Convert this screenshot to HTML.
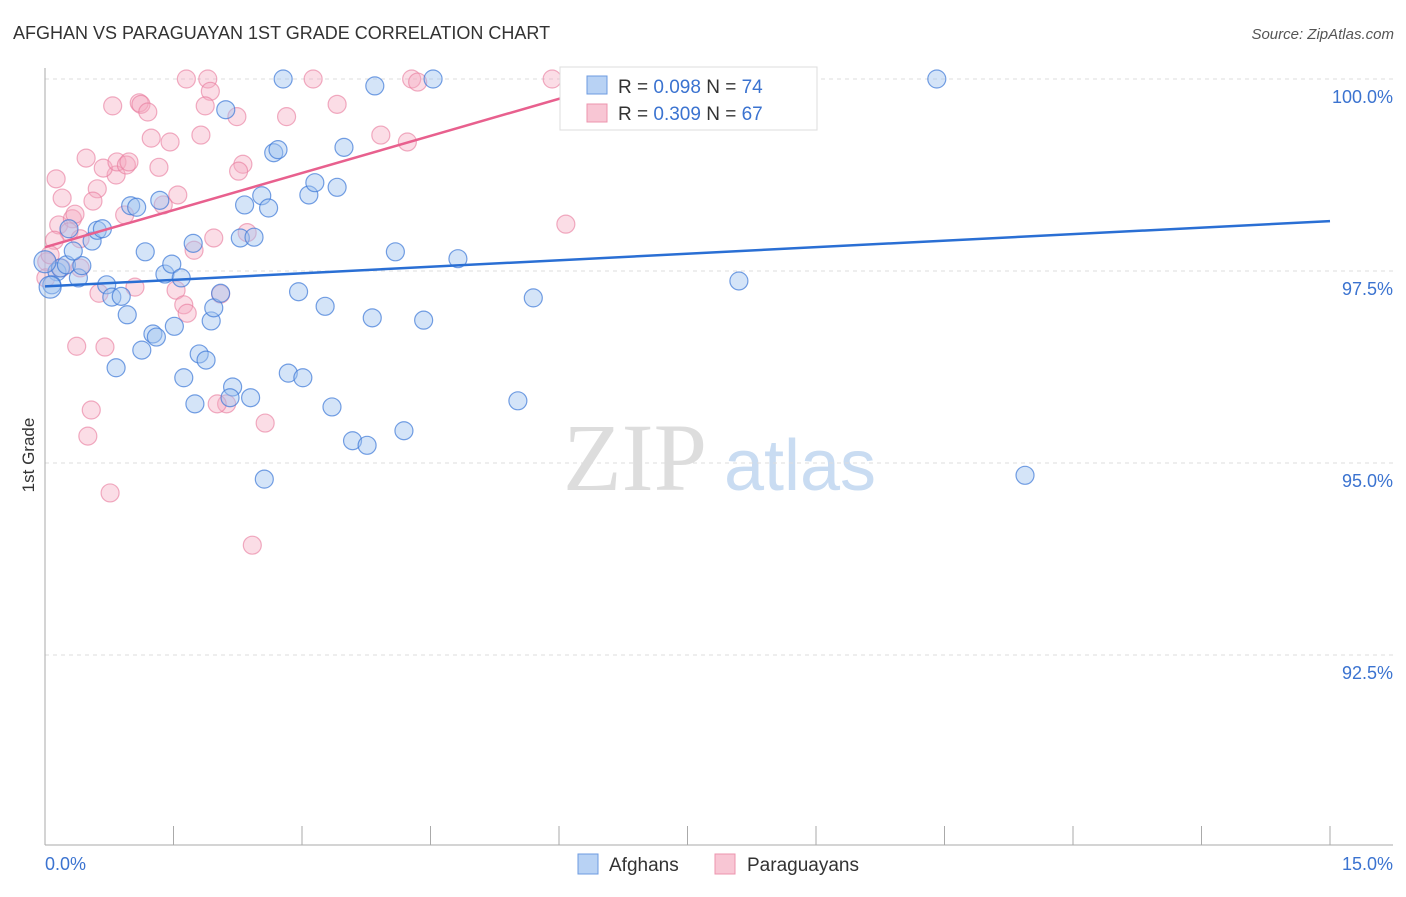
<!DOCTYPE html>
<html><head><meta charset="utf-8"><style>
body{margin:0;background:#fff;font-family:"Liberation Sans",sans-serif;}
</style></head><body>
<svg id="chart" width="1406" height="892" xmlns="http://www.w3.org/2000/svg" font-family="Liberation Sans, sans-serif">
<text x="13" y="39" font-size="18" fill="#333">AFGHAN VS PARAGUAYAN 1ST GRADE CORRELATION CHART</text>
<text x="1394" y="39" font-size="15" fill="#555" text-anchor="end" font-style="italic">Source: ZipAtlas.com</text>
<text transform="translate(34,455) rotate(-90)" font-size="17" fill="#333" text-anchor="middle">1st Grade</text>
<g><text x="635" y="490" font-size="96" fill="#ddd" text-anchor="middle" font-family="Liberation Serif, serif">ZIP</text><text x="800" y="490" font-size="72" fill="#c9dcf2" text-anchor="middle">atlas</text></g>
<g id="grid"></g><g id="axes"></g><g id="pts"></g><g id="lines"></g>
<g>
<rect x="560" y="67" width="257" height="63" fill="#fff" stroke="#ddd"/>
<rect x="587" y="76" width="20" height="18" fill="#b8d2f4" stroke="#6d9be0"/>
<text x="618" y="93" font-size="19" fill="#333">R = <tspan fill="#3b73d0">0.098</tspan>   N = <tspan fill="#3b73d0">74</tspan></text>
<rect x="587" y="104" width="20" height="18" fill="#f8c6d4" stroke="#ec94ae"/>
<text x="618" y="120" font-size="19" fill="#333">R = <tspan fill="#3b73d0">0.309</tspan>   N = <tspan fill="#3b73d0">67</tspan></text>
</g>
<g>
<rect x="578" y="854" width="20" height="20" fill="#b8d2f4" stroke="#6d9be0"/>
<text x="609" y="871" font-size="19" fill="#333">Afghans</text>
<rect x="715" y="854" width="20" height="20" fill="#f8c6d4" stroke="#ec94ae"/>
<text x="747" y="871" font-size="19" fill="#333">Paraguayans</text>
</g>
</svg>
<script>
const blueX=[0.14,0.08,0.18,0.25,0.39,0.43,0.33,0.55,0.61,0.67,0.28,0.72,0.78,0.89,0.96,1.13,0.83,1.26,1.30,1.51,1.40,1.48,1.59,1.73,1.17,1.00,1.07,1.34,1.62,1.75,1.80,1.88,1.94,1.97,2.05,2.19,2.16,2.40,2.28,2.44,2.33,2.53,2.61,2.11,2.67,2.72,2.78,3.08,3.15,3.41,3.49,3.85,4.53,2.96,3.27,2.84,3.01,3.35,3.59,3.76,3.82,4.19,4.42,4.09,4.82,5.52,5.70,2.56,8.10,10.41,11.44,8.78,0.0,0.06];
const blueY=[97.49,97.32,97.54,97.58,97.41,97.57,97.76,97.89,98.03,98.05,98.05,97.32,97.16,97.17,96.93,96.47,96.24,96.68,96.64,96.78,97.46,97.59,97.41,97.86,97.75,98.35,98.33,98.42,96.11,95.77,96.42,96.34,96.85,97.02,97.21,95.99,95.85,95.85,97.93,97.94,98.36,98.48,98.32,99.60,99.04,99.08,100,98.49,98.65,98.59,99.11,99.91,100,97.23,97.04,96.17,96.11,95.73,95.29,95.23,96.89,95.42,96.86,97.75,97.66,95.81,97.15,94.79,97.37,100,94.84,100,97.62,97.29];
const pinkX=[0.13,0.20,0.16,0.32,0.35,0.28,0.41,0.11,0.02,0.61,0.56,0.48,0.79,1.10,1.12,1.20,1.24,0.93,0.83,0.68,0.84,0.95,0.98,1.33,1.46,1.55,1.65,1.90,1.93,1.87,1.82,2.24,2.31,2.26,2.36,1.97,1.74,1.38,1.05,0.63,0.41,1.53,1.62,1.66,2.05,2.12,2.01,2.57,0.37,0.70,0.54,0.50,0.76,2.42,2.82,3.13,3.41,3.92,4.23,4.28,4.35,5.92,6.08,6.85,0.01,0.06,0.19];
const pinkY=[98.70,98.45,98.10,98.18,98.24,98.01,97.92,97.90,97.62,98.57,98.41,98.97,99.65,99.69,99.67,99.57,99.23,98.23,98.75,98.84,98.92,98.88,98.92,98.85,99.18,98.49,100,100,99.84,99.65,99.27,99.51,98.89,98.80,98.00,97.93,97.77,98.36,97.29,97.21,97.54,97.25,97.06,96.95,97.20,95.77,95.77,95.52,96.52,96.51,95.69,95.35,94.61,93.93,99.51,100,99.67,99.27,99.18,100,99.96,100,98.11,100,97.41,97.71,97.54];
const blueTrend=[[0,97.30],[15,98.15]];
const pinkTrend=[[0,97.81],[6.8,100.0]];
const yTicks=[100,97.5,95,92.5];
const yTickLabels=["100.0%","97.5%","95.0%","92.5%"];
const xTickVals=[0,1.5,3,4.5,6,7.5,9,10.5,12,13.5,15];
const xLabels=["0.0%","15.0%"];
const NS="http://www.w3.org/2000/svg";
const sx=v=>45+v/15*1285;
const sy=v=>79+(100-v)*76.8;
function mk(t,a,p){const e=document.createElementNS(NS,t);for(const k in a)e.setAttribute(k,a[k]);p.appendChild(e);return e;}
const grid=document.getElementById('grid'),axes=document.getElementById('axes'),pts=document.getElementById('pts'),lines=document.getElementById('lines');
yTicks.forEach((v,i)=>{
 const l=mk('line',{x1:45,x2:1393,y1:sy(v),y2:sy(v),stroke:'#ddd','stroke-dasharray':'4,4'},grid);
 
 
 const t=mk('text',{x:1393,y:sy(v)+24,'font-size':18,fill:'#3b73d0','text-anchor':'end'},axes);
 t.textContent=yTickLabels[i];
 
 
});
const ax=mk('line',{x1:45,x2:45,y1:68,y2:845,stroke:'#aaa'},axes);


const bx=mk('line',{x1:45,x2:1393,y1:845,y2:845,stroke:'#aaa'},axes);


xTickVals.forEach(v=>{
 const t=mk('line',{x1:sx(v),x2:sx(v),y1:826,y2:845,stroke:'#aaa'},axes);
 
 
});
[[0,'start',45],[15,'end',1393]].forEach((d,i)=>{
 const t=mk('text',{x:d[2],y:870,'font-size':18,fill:'#3b73d0','text-anchor':d[1]},axes);
 t.textContent=xLabels[i];
 
 
});
pinkX.forEach((x,i)=>{
 const c=mk('circle',{cx:sx(x),cy:sy(pinkY[i]),r:9,fill:'rgba(245,170,192,0.4)',stroke:'rgba(232,120,155,0.6)','stroke-width':1.2},pts);
 
 
});
blueX.forEach((x,i)=>{
 const c=mk('circle',{cx:sx(x),cy:sy(blueY[i]),r:i>=72?11:9,fill:'rgba(160,195,240,0.45)',stroke:'rgba(60,120,215,0.7)','stroke-width':1.2},pts);
 
 
});
const bl=mk('line',{x1:sx(blueTrend[0][0]),y1:sy(blueTrend[0][1]),x2:sx(blueTrend[1][0]),y2:sy(blueTrend[1][1]),stroke:'#2a6fd4','stroke-width':2.5},lines);


const pl=mk('line',{x1:sx(pinkTrend[0][0]),y1:sy(pinkTrend[0][1]),x2:sx(pinkTrend[1][0]),y2:sy(pinkTrend[1][1]),stroke:'#e8608e','stroke-width':2.5},lines);


</script>
</body></html>
